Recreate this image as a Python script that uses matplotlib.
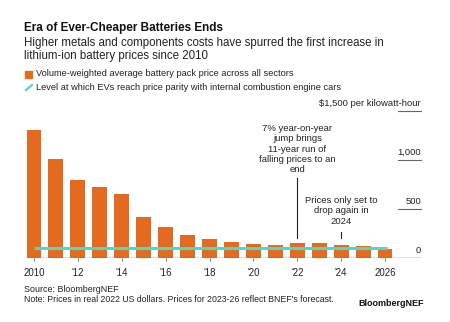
import matplotlib
matplotlib.use("Agg")
import matplotlib.pyplot as plt
import matplotlib.transforms as mtransforms

plt.rcParams['font.family'] = ['Liberation Sans', 'DejaVu Sans']

years = list(range(2010, 2027))
prices = [1310, 1010, 800, 725, 655, 420, 315, 235, 195, 165, 145, 135, 150, 150, 135, 122, 92]
parity_level = 100
yticks = [0, 500, 1000, 1500]
ytick_labels = ["0", "500", "1,000", "$1,500 per kilowatt-hour"]
xticks = list(range(2010, 2027, 2))
xtick_labels = ["2010", "'12", "'14", "'16", "'18", "'20", "'22", "'24", "2026"]

ORANGE = "#E36A1F"
TEAL = "#4DD9C8"
DARK = "#222222"

W, H = 450, 322
fig = plt.figure(figsize=(W / 100, H / 100), dpi=100)
fig.patch.set_facecolor("white")

def fx(px):
    return px / W

def fy(py):
    return 1 - py / H

ax_l, ax_r, ax_b, ax_t = 27, 421, 258, 111
ax = fig.add_axes([fx(ax_l), fy(ax_b), (ax_r - ax_l) / W, (ax_b - ax_t) / H])
ax.set_xlim(2009.68, 2027.64)
ax.set_ylim(0, 1500)
for s in ax.spines.values():
    s.set_visible(False)
ax.set_yticks([])

ax.bar(years, prices, width=0.68, color=ORANGE, zorder=2)
ax.plot([years[0], years[-1] + 0.1], [parity_level, parity_level], color=TEAL, lw=2.2,
        zorder=3, solid_capstyle="butt")
ax.axhline(0, color="#666666", lw=1.0, zorder=4)

ax.set_xticks(xticks)
ax.set_xticklabels(xtick_labels, fontsize=7.0, color=DARK)
ax.tick_params(axis="x", length=2.5, width=0.7, color="#777777", pad=4.5)

# y labels with short underline segments
trans = mtransforms.blended_transform_factory(ax.transAxes, ax.transData)
seg_l = (398 - ax_l) / (ax_r - ax_l)
for v, lab in zip(yticks, ytick_labels):
    ax.text(1.0, v + 30, lab, transform=trans, ha="right", va="bottom",
            fontsize=6.8, color=DARK, clip_on=False)
    if v != 0:
        ax.plot([seg_l, 1.0], [v, v], transform=trans, color="#666666", lw=0.8,
                clip_on=False)

# annotations
ax.text(2022, 1370, "7% year-on-year\njump brings\n11-year run of\nfalling prices to an\nend",
        ha="center", va="top", fontsize=6.8, color=DARK, linespacing=1.2)
ax.plot([2022, 2022], [205, 820], color=DARK, lw=0.8)
ax.text(2024, 635, "Prices only set to\ndrop again in\n2024",
        ha="center", va="top", fontsize=6.8, color=DARK, linespacing=1.2)
ax.plot([2024, 2024], [205, 265], color=DARK, lw=0.8)

# header
fig.text(fx(24), fy(28), "Era of Ever-Cheaper Batteries Ends", fontsize=8.5,
         fontweight="bold", color="#111111", va="center", ha="left")
fig.text(fx(24), fy(43), "Higher metals and components costs have spurred the first increase in",
         fontsize=8.3, color="#222222", va="center", ha="left")
fig.text(fx(24), fy(55.5), "lithium-ion battery prices since 2010",
         fontsize=8.3, color="#222222", va="center", ha="left")

# legend
fig.patches.append(plt.Rectangle((fx(25), fy(77.5)), 6.5 / W, 6.5 / H, transform=fig.transFigure,
                                 color=ORANGE, figure=fig))
fig.text(fx(36), fy(74), "Volume-weighted average battery pack price across all sectors",
         fontsize=6.65, color=DARK, va="center", ha="left")
fig.lines.append(plt.Line2D([fx(26), fx(32)], [fy(90), fy(85)], transform=fig.transFigure,
                            color=TEAL, lw=1.6, figure=fig))
fig.text(fx(36), fy(87), "Level at which EVs reach price parity with internal combustion engine cars",
         fontsize=6.65, color=DARK, va="center", ha="left")

# footer
fig.text(fx(24), fy(289), "Source: BloombergNEF", fontsize=6.4, color=DARK, va="center", ha="left")
fig.text(fx(24), fy(299), "Note: Prices in real 2022 US dollars. Prices for 2023-26 reflect BNEF's forecast.",
         fontsize=6.3, color=DARK, va="center", ha="left")
fig.text(fx(424), fy(303), "BloombergNEF", fontsize=6.5, fontweight="bold", color="#111111",
         va="center", ha="right")

fig.savefig("out.png", dpi=100, facecolor="white")
